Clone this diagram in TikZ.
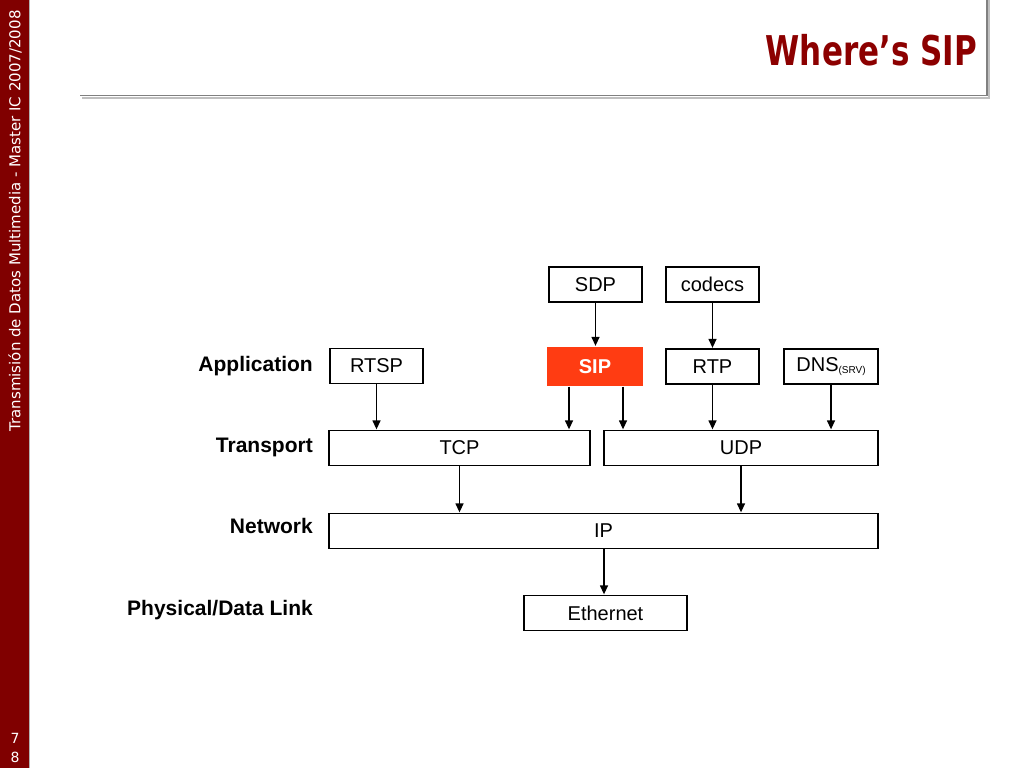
\documentclass[tikz,border=0pt]{standalone}
\usepackage{fontspec}
\setmainfont{Liberation Sans}
\newfontfamily\tahoma{DejaVu Sans Condensed}
\newfontfamily\verd{DejaVu Sans}
\usetikzlibrary{arrows.meta,calc}
\definecolor{barred}{RGB}{128,0,0}
\definecolor{titlered}{RGB}{140,0,0}
\definecolor{sipred}{RGB}{255,60,18}
\definecolor{rulegrey}{RGB}{128,128,128}
\tikzset{
  box/.style={draw=black, line width=1.3pt, fill=white, minimum height=35pt, inner sep=0pt, font=\fontsize{20}{23}\selectfont},
  layerlabel/.style={anchor=base east, inner sep=0pt, font=\fontsize{21}{24}\selectfont\bfseries},
  arr/.style={-{Triangle[length=9pt,width=8pt]}, line width=1.3pt, shorten >=0.5pt}
}
\begin{document}
\begin{tikzpicture}[x=1pt,y=-1pt]
\useasboundingbox (0,0) rectangle (1024,768);
\fill[white] (0,0) rectangle (1024,768);
% left bar
\fill[barred] (0,0) rectangle (29,768);
\draw[rulegrey!60!white, line width=0.8pt] (29.5,0) -- (29.5,768);
\node[rotate=90, text=white, inner sep=0pt, font=\verd\fontsize{15}{17}\selectfont] (sidetext) at (15,221) {Transmisión de Datos Multimedia - Master IC 2007/2008};
\node[text=white, inner sep=0pt, font=\verd\fontsize{14}{16}\selectfont] (p7) at (15,738) {7};
\node[text=white, inner sep=0pt, font=\verd\fontsize{14}{16}\selectfont] (p8) at (15,757) {8};
% header rules
\draw[black!25, line width=2pt] (82,97.5) -- (989,97.5) -- (989,0);
\draw[rulegrey, line width=1.2pt] (80,95.5) -- (987,95.5) -- (987,0);
% title
\node[anchor=base east, inner sep=0pt, text=titlered, xscale=0.84, font=\tahoma\bfseries\fontsize{41}{44}\selectfont] (title) at (977,66) {Where’s SIP};
% layer labels
\node[layerlabel] (lApp) at (313,371) {Application};
\node[layerlabel] (lTr) at (313,452) {Transport};
\node[layerlabel] (lNet) at (313,533) {Network};
\node[layerlabel] (lPhy) at (313,615) {Physical/Data Link};
% boxes
\node[box, minimum width=93pt] (SDP) at (595.5,284.5) {SDP};
\node[box, minimum width=93pt] (codecs) at (712.5,284.5) {codecs};
\node[box, minimum width=93pt] (RTSP) at (376.5,366) {RTSP};
\node[box, draw=none, fill=sipred, minimum width=96pt, minimum height=39pt, text=white, font=\fontsize{20}{23}\selectfont\bfseries] (SIP) at (595,366.5) {SIP};
\node[box, minimum width=93pt] (RTP) at (712.5,366.5) {RTP};
\node[box, minimum width=94pt] (DNS) at (831,366.5) {DNS\raisebox{-2.5pt}{\fontsize{10}{12}\selectfont(SRV)}};
\node[box, minimum width=261pt] (TCP) at (459.5,448) {TCP};
\node[box, minimum width=274pt] (UDP) at (741,448) {UDP};
\node[box, minimum width=549pt] (IP) at (603.5,531) {IP};
\node[box, minimum width=163pt] (Eth) at (605.5,613) {Ethernet};
% arrows
\draw[arr] (SDP.south) -- (SDP.south |- SIP.north);
\draw[arr] (codecs.south) -- (codecs.south |- RTP.north);
\draw[arr] (RTSP.south) -- (RTSP.south |- TCP.north);
\draw[arr] ([xshift=-26pt]SIP.south) -- ([xshift=-26pt]SIP.south |- TCP.north);
\draw[arr] ([xshift=28pt]SIP.south) -- ([xshift=28pt]SIP.south |- UDP.north);
\draw[arr] (RTP.south) -- (RTP.south |- UDP.north);
\draw[arr] (DNS.south) -- (DNS.south |- UDP.north);
\draw[arr] (TCP.south) -- (TCP.south |- IP.north);
\draw[arr] (UDP.south) -- (UDP.south |- IP.north);
\draw[arr] ([xshift=0.5pt]IP.south) -- ([xshift=0.5pt]IP.south |- Eth.north);
\end{tikzpicture}
\end{document}
